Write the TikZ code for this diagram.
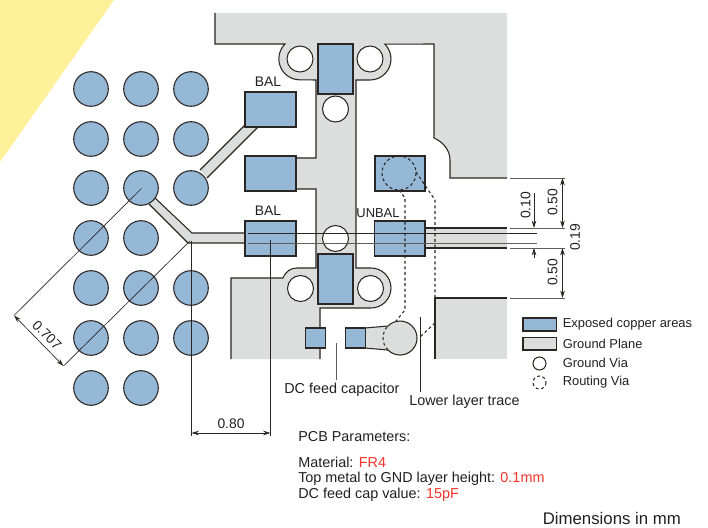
\documentclass[tikz,border=0pt]{standalone}
\usepackage{fontspec}
\setmainfont{Liberation Sans}
\usetikzlibrary{arrows.meta}
\definecolor{cu}{HTML}{95B8D7}
\definecolor{gp}{HTML}{DCDEDD}
\definecolor{ink}{HTML}{2B2523}
\definecolor{lbl}{HTML}{231F20}
\definecolor{yel}{HTML}{FFF09A}
\definecolor{redt}{HTML}{F5332A}
\tikzset{
  x=0.75pt,y=-0.75pt,
  edge/.style={draw=ink,line width=0.8pt},
  padbox/.style={fill=cu,draw=ink,line width=0.85pt},
  gvia/.style={fill=white,draw=ink,line width=0.8pt},
  dot/.style={fill=cu,draw=ink,line width=0.8pt},
  rvia/.style={draw=ink,line width=0.8pt,dash pattern=on 2.2pt off 2pt},
  thin line/.style={draw=ink,line width=0.5pt},
  ext/.style={draw=ink!75,line width=0.55pt},
  dim/.style={draw=ink,line width=0.5pt,{Stealth[length=5.5pt,width=3.4pt]}-{Stealth[length=5.5pt,width=3.4pt]}},
  tip/.style={draw=ink,line width=0.5pt,-{Stealth[length=5.5pt,width=3.4pt]}},
  lab/.style={text=lbl,font=\fontsize{10.8}{12}\selectfont,inner sep=0pt,anchor=west},
  leg/.style={text=lbl,font=\fontsize{9.7}{11}\selectfont,inner sep=0pt,anchor=west},
  clab/.style={text=lbl,font=\fontsize{10.4}{12}\selectfont,inner sep=0pt}
}
\begin{document}
\begin{tikzpicture}
\useasboundingbox (0,0) rectangle (708,528);
% yellow corner
\fill[yel] (0,0) -- (114,0) -- (0,162) -- cycle;
% ground plane fill
\fill[gp] (215,13) -- (507,13) -- (507,178) -- (450,178) -- (450,160)
  .. controls (450,150) and (443,142) .. (434,138) -- (434,44) -- (385,44)
  arc[start angle=-45,end angle=90,radius=21] -- (356,80) -- (356,268) -- (371,268)
  arc[start angle=-90,end angle=90,radius=20] -- (320,308) -- (320,359) -- (231,359) -- (231,278) -- (283,278)
  .. controls (286,271) and (291,268) .. (297,268) -- (316,268) -- (316,189) -- (296,189) -- (296,158) -- (316,158) -- (316,80) -- (300,80)
  arc[start angle=90,end angle=225,radius=21] -- (215,44) -- cycle;
\fill[gp] (435,298) rectangle (507,359);
% traces
\fill[gp] (245,125) -- (258,127) -- (207,178) -- (200,170) -- cycle;
\fill[gp] (155,198) -- (192,233) -- (245,233) -- (245,243) -- (188,243) -- (149,204) -- cycle;
\fill[gp] (425,228) rectangle (507,248);
\draw[edge] (245,125) -- (200,170);
\draw[edge] (258,127) -- (207,178);
\draw[edge] (155,198) -- (192,233) -- (245,233);
\draw[edge] (149,204) -- (188,243) -- (245,243);
\draw[edge] (425,228) -- (507,228);
\draw[edge] (425,248) -- (507,248);
% plane edges
\draw[edge] (215,13) -- (215,44) -- (285,44) arc[start angle=225,end angle=90,radius=21] -- (316,80) -- (316,158) -- (296,158);
\draw[edge] (296,189) -- (316,189) -- (316,268) -- (297,268) .. controls (291,268) and (286,271) .. (283,278) -- (231,278) -- (231,359);
\draw[edge] (320,359) -- (320,308) -- (371,308) arc[start angle=90,end angle=-90,radius=20] -- (356,268) -- (356,80) -- (370,80)
  arc[start angle=90,end angle=-45,radius=21] -- (434,44) -- (434,138)
  .. controls (443,142) and (450,150) .. (450,160) -- (450,178) -- (507,178);
\draw[edge] (435,359) -- (435,298) -- (507,298);
% pad grid
\foreach \cx/\cy in {91/89,141/89,191/89,91/139,141/139,191/139,91/188,141/188,191/188,91/238,141/238,91/288,141/288,191/288,91/338,141/338,191/338,91/388,141/388}
  \draw[dot] (\cx,\cy) circle (17.3);
% copper pads
\draw[padbox] (318,44) rectangle (353,94);
\draw[padbox] (245,92) rectangle (296,127);
\draw[padbox] (245,156) rectangle (296,191);
\draw[padbox] (375,156) rectangle (425,191);
\draw[padbox] (245,221) rectangle (296,256);
\draw[padbox] (374.5,221) rectangle (425,256);
\draw[padbox] (318,254) rectangle (353,304);
% ground vias
\foreach \cx/\cy in {300/59,370/59,335.5/109,335.5/238.5,300.5/288.5,370.5/288.5}
  \draw[gvia] (\cx,\cy) circle (13);
% lollipop and small pads
\fill[gp] (365,328) -- (388,326) arc[start angle=-135,end angle=135,radius=17] -- (365,348) -- cycle;
\draw[edge] (365,328) -- (388,326) arc[start angle=-135,end angle=135,radius=17] -- (365,348);
\draw[padbox] (305.5,328) rectangle (325.5,348);
\draw[padbox] (345.5,328) rectangle (365.5,348);
% routing
\draw[rvia] (399,173) circle (17);
\draw[rvia] (388,350) arc[start angle=135,end angle=225,radius=17];
\draw[rvia] (399,190) -- (405,198) -- (405,310) -- (396,321);
\draw[rvia] (416,172) -- (435,200) -- (435,323) -- (420,337);
% inner lines
\draw[thin line] (248,233) -- (537,233);
\draw[thin line,draw=ink!75] (248,243) -- (537,243);
% 0.707
\coordinate (v1) at (141.5,188.5);
\coordinate (v1e) at (14,315.5);
\coordinate (v2) at (190,241);
\coordinate (v2e) at (63.5,366);
\draw[thin line] (v1) -- (v1e);
\draw[thin line] (v2) -- (v2e);
\draw[dim] (v1e) -- (v2e);
\node[clab,rotate=-45] (d707) at (47,335) {0.707};
% 0.80
\coordinate (a1) at (191.5,241);
\coordinate (a1e) at (191.5,436);
\coordinate (a2) at (270.5,240);
\coordinate (a2e) at (270.5,436);
\coordinate (h1) at (191.5,433);
\coordinate (h2) at (270.5,433);
\draw[thin line] (a1) -- (a1e);
\draw[thin line] (a2) -- (a2e);
\draw[dim] (h1) -- (h2);
\node[clab] (d80) at (231,424) {0.80};
% right dims
\coordinate (e1) at (510,178);
\coordinate (e1e) at (565,178);
\coordinate (e2) at (510,228);
\coordinate (e2e) at (565,228);
\coordinate (e3) at (510,248);
\coordinate (e3e) at (565,248);
\coordinate (e4) at (510,298);
\coordinate (e4e) at (565,298);
\draw[ext] (e1) -- (e1e);
\draw[ext] (e2) -- (e2e);
\draw[ext] (e3) -- (e3e);
\draw[ext] (e4) -- (e4e);
\coordinate (m1) at (562.5,178);
\coordinate (m2) at (562.5,228);
\coordinate (m3) at (562.5,248);
\coordinate (m4) at (562.5,298);
\draw[dim] (m1) -- (m2);
\draw[dim] (m3) -- (m4);
\coordinate (t1) at (534,193);
\coordinate (t2) at (534,228);
\coordinate (t3) at (534,258);
\coordinate (t4) at (534,248);
\draw[tip] (t1) -- (t2);
\draw[tip] (t3) -- (t4);
\node[clab,rotate=90] (d50a) at (552.5,202.5) {0.50};
\node[clab,rotate=90] (d50b) at (552.5,272.5) {0.50};
\node[clab,rotate=90] (d19) at (575,237.5) {0.19};
\node[clab,rotate=90] (d10) at (525.5,205.5) {0.10};
% leaders
\coordinate (c1) at (336.5,343);
\coordinate (c2) at (336.5,380);
\coordinate (l1) at (420.5,317);
\coordinate (l2) at (420.5,392);
\draw[ext] (c1) -- (c2);
\draw[edge,line width=0.6pt] (l1) -- (l2);
% labels
\node[clab] (bal1) at (268,82) {BAL};
\node[clab] (bal2) at (268,211) {BAL};
\node[leg,anchor=center] (unbal) at (378,213) {UNBAL};
\node[lab] (dcfeed) at (284,389.5) {DC feed capacitor};
\node[lab] (lower) at (409,402) {Lower layer trace};
\node[lab] (pcb) at (298,436.5) {PCB Parameters:};
\node[lab] (mat) at (298,462) {Material: \textcolor{redt}{FR4}};
\node[lab] (top) at (298,479) {Top metal to GND layer height: \textcolor{redt}{0.1mm}};
\node[lab] (cap) at (298,495) {DC feed cap value: \textcolor{redt}{15pF}};
\node[lab,font=\fontsize{12.6}{14}\selectfont] (dimn) at (542.5,518) {Dimensions in mm};
% legend
\draw[padbox] (523,318) rectangle (556.5,331);
\draw[edge,fill=gp] (523,337.5) rectangle (556.5,350);
\draw[gvia] (539.5,363.5) circle (6.5);
\draw[rvia] (539.5,382.5) circle (6.5);
\node[leg] (lg1) at (562.5,324.5) {Exposed copper areas};
\node[leg] (lg2) at (562.5,343.5) {Ground Plane};
\node[leg] (lg3) at (562.5,362.5) {Ground Via};
\node[leg] (lg4) at (562.5,382.5) {Routing Via};
\end{tikzpicture}
\end{document}
